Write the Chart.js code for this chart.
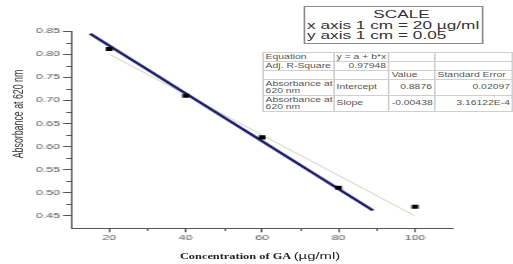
<!DOCTYPE html>
<html><head><meta charset="utf-8">
<script src="https://cdn.jsdelivr.net/npm/chart.js@4"></script>
<style>
html,body{margin:0;padding:0;background:#fff;overflow:hidden;width:513px;height:264px;}
#wrap{position:absolute;left:0;top:0;width:311px;height:264px;transform:scaleX(1.65);transform-origin:0 0;}
#c{position:absolute;left:0;top:0;}
.scale{position:absolute;left:183.6px;top:6px;width:109px;height:38px;box-sizing:border-box;border:1px solid #8a8a8a;background:#fff;
 font-family:'Liberation Sans',Arial,sans-serif;font-size:10.3px;line-height:10.5px;color:#333;padding:3px 0 0 1.5px;white-space:nowrap;}
.scale .t{text-align:center;padding-left:9px;}
.scale span{display:inline-block;}
table.fit{position:absolute;left:158.8px;top:52px;width:151.5px;border-collapse:collapse;table-layout:fixed;background:#fff;
 font-family:'Liberation Sans',Arial,sans-serif;font-size:6.3px;line-height:6.8px;color:#555;}
table.fit td{border:1px solid #cfcfcf;padding:0 1.2px;overflow:hidden;white-space:nowrap;vertical-align:middle;}
table.fit td.r{text-align:right;}
.xt{position:absolute;left:57.6px;top:249px;width:200px;text-align:center;line-height:10px;color:#222;white-space:nowrap;}
.xt .a{font-family:'Liberation Serif','Times New Roman',serif;font-weight:bold;font-size:7.5px;}
.xt .b{font-family:'Liberation Sans',Arial,sans-serif;font-size:9px;}
.yt{position:absolute;left:-49.4px;top:108.5px;width:120px;height:10px;line-height:10px;text-align:center;transform:rotate(-90deg);
 font-family:'Liberation Sans',Arial,sans-serif;font-size:8.8px;color:#333;white-space:nowrap;}
</style></head>
<body>
<div id="wrap">
<canvas id="c" width="311" height="264"></canvas>
<div class="scale" id="scale"></div>
<table class="fit" id="tbl"></table>
<div class="xt"><span class="a">Concentration of GA </span><span class="b">(µg/ml)</span></div>
<div class="yt">Absorbance at 620 nm</div>
</div>
<script>
// ---- data ----
const concentration = [20, 40, 60, 80, 100];
const absorbance = [0.811, 0.710, 0.620, 0.511, 0.470];
const fitX = [20, 100];
const fitY = [0.800, 0.450];
const trendX = [15, 89];
const trendY = [0.844, 0.462];
const xTicks = [20, 40, 60, 80, 100];
const yTicks = [0.45, 0.50, 0.55, 0.60, 0.65, 0.70, 0.75, 0.80, 0.85];
const xMinor = [30, 50, 70, 90];
const yMinor = [0.475, 0.525, 0.575, 0.625, 0.675, 0.725, 0.775, 0.825];
const scaleLines = ['SCALE', 'x axis 1 cm = 20 µg/ml', 'y axis 1 cm = 0.05'];
const tableRows = [
  ['Equation', 'y = a + b*x', '', ''],
  ['Adj. R-Square', '0.97948', '', ''],
  ['', '', 'Value', 'Standard Error'],
  ['Absorbance at\n620 nm', 'Intercept', '0.8876', '0.02097'],
  ['Absorbance at\n620 nm', 'Slope', '-0.00438', '3.16122E-4']
];

// ---- overlays ----
const sc = document.getElementById('scale');
const scaleSpans = [];
scaleLines.forEach((t, i) => {
  const d = document.createElement('div'); if (i === 0) d.className = 't';
  const s = document.createElement('span'); s.textContent = t; d.appendChild(s); sc.appendChild(d); scaleSpans.push(s);
});
// fit the long scale line to its measured width in the reference (inner px)
const w2 = scaleSpans[1].offsetWidth;
if (w2 > 0) { sc.style.fontSize = (10.3 * 104.5 / w2).toFixed(2) + 'px'; }

const tbl = document.getElementById('tbl');
const cg = document.createElement('colgroup');
[43.0, 33.4, 27.8, 47.3].forEach(w => { const c = document.createElement('col'); c.style.width = w + 'px'; cg.appendChild(c); });
tbl.appendChild(cg);
const rowH = [9, 9, 9, 16, 16];
tableRows.forEach((r, i) => {
  const tr = document.createElement('tr'); tr.style.height = rowH[i] + 'px';
  r.forEach((t, j) => {
    const td = document.createElement('td');
    t.split('\n').forEach((p, k) => { if (k) td.appendChild(document.createElement('br')); td.appendChild(document.createTextNode(p)); });
    if ((j === 1 && i === 1) || (j >= 2 && i >= 3)) td.className = 'r';
    tr.appendChild(td);
  });
  tbl.appendChild(tr);
});

// ---- chart ----
const pts = (xs, ys) => xs.map((x, i) => ({x, y: ys[i]}));
const minorTicks = {
  id: 'minorTicks',
  afterDraw(chart) {
    const {ctx, chartArea, scales: {x, y}} = chart;
    ctx.save(); ctx.strokeStyle = '#555'; ctx.lineWidth = 1; ctx.beginPath();
    xMinor.forEach(v => { const px = Math.round(x.getPixelForValue(v)) + 0.5; ctx.moveTo(px, chartArea.bottom); ctx.lineTo(px, chartArea.bottom + 2.2); });
    yMinor.forEach(v => { const py = Math.round(y.getPixelForValue(v)) + 0.5; ctx.moveTo(chartArea.left, py); ctx.lineTo(chartArea.left - 2.8, py); });
    ctx.stroke(); ctx.restore();
  }
};
const tickFont = {family: "'Liberation Sans', Arial, sans-serif", size: 7.5};
const zeroPad = s => { s.paddingTop = 0; s.paddingBottom = 0; s.paddingLeft = 0; s.paddingRight = 0; };
new Chart(document.getElementById('c'), {
  type: 'scatter',
  data: {
    datasets: [
      {data: pts(concentration, absorbance), pointStyle: 'rect', pointRadius: 2.9, backgroundColor: '#000', borderWidth: 0, showLine: false, order: 0},
      {data: pts(trendX, trendY), showLine: true, pointRadius: 0, borderColor: '#1a1a66', borderWidth: 2.2, order: 1},
      {data: pts(fitX, fitY), showLine: true, pointRadius: 0, borderColor: '#cfc6b8', borderWidth: 0.9, order: 2}
    ]
  },
  options: {
    responsive: false, animation: false, devicePixelRatio: 1,
    layout: {padding: {top: 31, right: 36.3, left: 0, bottom: 0}},
    plugins: {legend: {display: false}, tooltip: {enabled: false}},
    scales: {
      x: {
        type: 'linear', min: 10, max: 110,
        afterBuildTicks: s => { s.ticks = xTicks.map(v => ({value: v})); },
        afterFit: s => { s.height = 264 - 228.7; zeroPad(s); },
        border: {display: true, color: '#555', width: 1},
        grid: {drawOnChartArea: false, drawTicks: true, tickLength: 3.6, tickColor: '#555'},
        ticks: {font: tickFont, color: '#555', padding: 1.6, maxRotation: 0, autoSkip: false, callback: v => String(v)}
      },
      y: {
        type: 'linear', min: 0.4225, max: 0.85,
        afterBuildTicks: s => { s.ticks = yTicks.map(v => ({value: v})); },
        afterFit: s => { s.width = 43.03; zeroPad(s); },
        border: {display: true, color: '#555', width: 1},
        grid: {drawOnChartArea: false, drawTicks: true, tickLength: 4.8, tickColor: '#555'},
        ticks: {font: tickFont, color: '#555', padding: 1.8, autoSkip: false, callback: v => v.toFixed(2)}
      }
    }
  },
  plugins: [minorTicks]
});
</script>
</body></html>
